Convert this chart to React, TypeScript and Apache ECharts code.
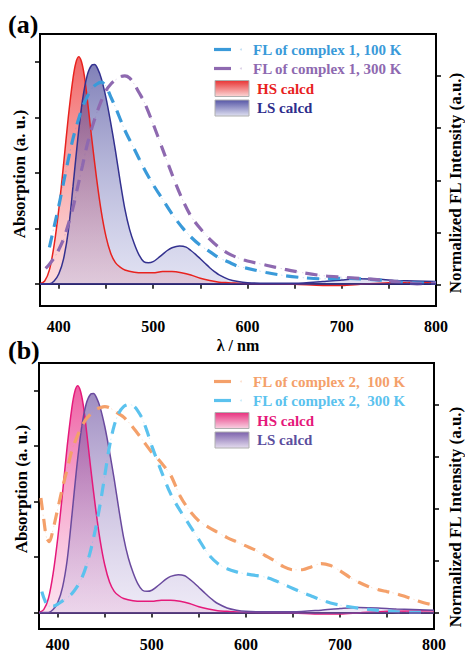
import React, { useEffect, useRef } from "react";
import * as echarts from "echarts";

// ---------- DATA ----------
// calculated absorption (same shape in both panels)
const hsNm = [380, 385, 390, 395, 400, 405, 410, 415, 418, 421, 424, 427, 430, 435, 440, 445, 450, 455, 460, 465, 470, 480, 490, 500, 510, 520, 530, 540, 550, 560, 570, 580, 600, 650, 680, 700, 720, 750, 800];
const hsAbs = [0.0, 0.05, 0.25, 0.7, 1.35, 2.15, 3.0, 3.7, 3.98, 4.09, 4.0, 3.75, 3.35, 2.6, 1.9, 1.3, 0.85, 0.55, 0.38, 0.3, 0.25, 0.21, 0.2, 0.2, 0.22, 0.22, 0.2, 0.16, 0.1, 0.06, 0.03, 0.02, 0.0, -0.01, -0.03, -0.03, -0.01, 0.02, 0.03];

const lsNm = [380, 390, 395, 400, 405, 410, 415, 420, 425, 430, 435, 438, 441, 445, 450, 455, 460, 465, 470, 475, 480, 485, 490, 495, 500, 505, 510, 515, 520, 528, 535, 540, 545, 550, 555, 560, 565, 570, 580, 590, 600, 620, 650, 680, 700, 720, 740, 760, 800];
const lsAbs = [0, 0.0, 0.05, 0.18, 0.45, 0.95, 1.75, 2.6, 3.3, 3.75, 3.94, 3.95, 3.88, 3.7, 3.35, 2.9, 2.4, 1.85, 1.35, 0.98, 0.72, 0.52, 0.4, 0.38, 0.4, 0.46, 0.53, 0.6, 0.65, 0.68, 0.66, 0.6, 0.53, 0.45, 0.37, 0.29, 0.22, 0.16, 0.08, 0.04, 0.02, 0.01, 0.01, 0.04, 0.07, 0.09, 0.08, 0.06, 0.04];

// panel (a) fluorescence, complex 1
const fl1Nm100 = [390, 395, 400, 405, 410, 415, 420, 425, 430, 435, 440, 445, 450, 455, 460, 470, 480, 490, 500, 510, 520, 530, 540, 550, 560, 570, 580, 590, 600, 620, 640, 660, 680, 700, 720, 740, 760, 780, 800];
const fl1Val100 = [0.18, 0.28, 0.38, 0.49, 0.6, 0.7, 0.78, 0.85, 0.9, 0.94, 0.96, 0.97, 0.95, 0.9, 0.85, 0.74, 0.65, 0.56, 0.48, 0.41, 0.34, 0.28, 0.23, 0.19, 0.16, 0.13, 0.11, 0.09, 0.08, 0.06, 0.045, 0.035, 0.03, 0.032, 0.03, 0.024, 0.015, 0.01, 0.01];

const fl1Nm300 = [386, 390, 395, 400, 405, 410, 415, 420, 425, 430, 435, 440, 445, 450, 455, 460, 465, 470, 475, 480, 485, 490, 500, 510, 520, 530, 540, 550, 560, 570, 580, 590, 600, 620, 640, 660, 680, 700, 720, 740, 760, 780, 800];
const fl1Val300 = [0.08, 0.1, 0.13, 0.17, 0.22, 0.29, 0.37, 0.47, 0.57, 0.67, 0.75, 0.82, 0.88, 0.93, 0.96, 0.98, 0.995, 1.0, 0.99, 0.96, 0.92, 0.88, 0.77, 0.65, 0.53, 0.42, 0.33, 0.27, 0.22, 0.18, 0.15, 0.13, 0.115, 0.095, 0.075, 0.058, 0.045, 0.038, 0.032, 0.025, 0.015, 0.006, 0.01];

// panel (b) fluorescence, complex 2
const fl2Nm100 = [382, 385, 388, 391, 395, 400, 405, 410, 415, 420, 425, 430, 435, 440, 445, 450, 455, 460, 465, 470, 480, 490, 500, 510, 520, 530, 540, 550, 560, 570, 580, 590, 600, 610, 620, 630, 640, 650, 660, 670, 680, 690, 700, 710, 720, 730, 740, 750, 760, 770, 780, 790, 800];
const fl2Val100 = [0.55, 0.45, 0.36, 0.34, 0.4, 0.5, 0.6, 0.69, 0.78, 0.84, 0.89, 0.93, 0.955, 0.975, 0.985, 0.99, 0.985, 0.97, 0.955, 0.94, 0.89, 0.83, 0.77, 0.72, 0.66, 0.56, 0.49, 0.44, 0.41, 0.385, 0.36, 0.34, 0.32, 0.3, 0.275, 0.25, 0.22, 0.205, 0.205, 0.22, 0.235, 0.225, 0.2, 0.17, 0.145, 0.125, 0.11, 0.1, 0.09, 0.075, 0.06, 0.045, 0.035];

const fl2Nm300 = [383, 386, 390, 395, 400, 405, 410, 415, 420, 425, 430, 435, 440, 445, 450, 455, 460, 465, 470, 475, 480, 485, 490, 495, 500, 510, 520, 530, 540, 550, 560, 570, 580, 590, 600, 610, 620, 630, 640, 650, 660, 670, 680, 690, 700, 720, 740, 760, 780, 790];
const fl2Val300 = [0.1, 0.06, 0.03, 0.03, 0.04, 0.055, 0.07, 0.09, 0.12, 0.16, 0.22, 0.3, 0.4, 0.52, 0.66, 0.8, 0.9, 0.96, 0.99, 1.0, 0.995, 0.97, 0.93, 0.87, 0.8, 0.68, 0.57, 0.49, 0.42, 0.35, 0.28, 0.235, 0.21, 0.195, 0.185, 0.178, 0.17, 0.155, 0.135, 0.115, 0.095, 0.078, 0.06, 0.045, 0.035, 0.02, 0.01, 0.003, 0.0, 0.0];

const xTicks = [400, 450, 500, 550, 600, 650, 700, 750, 800];
const xLabels = [400, 500, 600, 700, 800];
const absTicks = [0, 1, 2, 3, 4];
const flTicks = [0, 0.25, 0.5, 0.75, 1];

const legendA = ["FL of complex 1, 100 K", "FL of complex 1, 300 K", "HS calcd", "LS calcd"];
const legendB = ["FL of complex 2,  100 K", "FL of complex 2,  300 K", "HS calcd", "LS calcd"];

// ---------- HELPERS ----------
const zip = (xs: number[], ys: number[]) => xs.map((x, i) => [x, ys[i]]);
const FONT = '"Liberation Serif", "Times New Roman", serif';
const grad = (top: string, bottom: string) =>
  new echarts.graphic.LinearGradient(0, 0, 0, 1, [
    { offset: 0, color: top },
    { offset: 1, color: bottom },
  ]);

function xAxis(grid: number, margin: number, withName: boolean) {
  return {
    type: "value",
    gridIndex: grid,
    min: 380,
    max: 800,
    axisLine: { show: true, lineStyle: { color: "#000", width: 2 } },
    axisTick: { show: true, length: 5, lineStyle: { color: "#000", width: 1.5 }, customValues: xTicks },
    axisLabel: { customValues: xLabels, margin, color: "#000", fontFamily: FONT, fontWeight: "bold", fontSize: 16 },
    splitLine: { show: false },
    name: withName ? "λ / nm" : "",
    nameLocation: "middle",
    nameGap: 31,
    nameTextStyle: { color: "#000", fontFamily: FONT, fontWeight: "bold", fontSize: 16 },
  };
}
function yAxis(grid: number, pos: string, min: number, max: number, ticks: number[]) {
  return {
    type: "value",
    gridIndex: grid,
    position: pos,
    min,
    max,
    axisLine: { show: true, lineStyle: { color: "#000", width: 2 } },
    axisTick: { show: true, length: 5, lineStyle: { color: "#000", width: 1.5 }, customValues: ticks },
    axisLabel: { show: false },
    splitLine: { show: false },
  };
}

function absSeries(xi: number, yi: number, nm: number[], v: number[], line: string, top: string, bottom: string, baseline?: string) {
  const s: any = {
    type: "line",
    xAxisIndex: xi,
    yAxisIndex: yi,
    data: zip(nm, v),
    smooth: 0.3,
    showSymbol: false,
    silent: true,
    lineStyle: { color: line, width: 1.5 },
    areaStyle: { color: grad(top, bottom), origin: 0 },
  };
  if (baseline) {
    s.markLine = {
      silent: true,
      symbol: ["none", "none"],
      label: { show: false },
      lineStyle: { color: baseline, width: 1.5, type: "solid" },
      data: [{ yAxis: 0 }],
    };
  }
  return s;
}
function flSeries(xi: number, yi: number, nm: number[], v: number[], color: string) {
  return [
    {
      type: "line",
      xAxisIndex: xi,
      yAxisIndex: yi,
      data: zip(nm, v),
      smooth: 0.3,
      showSymbol: false,
      silent: true,
      lineStyle: { color, width: 1, opacity: 0.3, type: [1.5, 4] },
    },
    {
      type: "line",
      xAxisIndex: xi,
      yAxisIndex: yi,
      data: zip(nm, v),
      smooth: 0.3,
      showSymbol: false,
      silent: true,
      lineStyle: { color, width: 3.2, type: [12, 9], cap: "butt" },
    },
  ];
}

function legend(y0: number, labels: string[], c: string[], boxes: string[][]) {
  const els: any[] = [];
  const rows = [y0, y0 + 19];
  rows.forEach((y, i) => {
    els.push({ type: "line", shape: { x1: 214, y1: y, x2: 231, y2: y }, style: { stroke: c[i], lineWidth: 3.2 } });
    els.push({ type: "circle", shape: { cx: 241, cy: y, r: 1 }, style: { fill: c[i], opacity: 0.3 } });
    els.push({
      type: "text", x: 253, y,
      style: { text: labels[i], fill: c[i], font: `bold 15px ${FONT}`, textAlign: "left", textVerticalAlign: "middle" },
    });
  });
  const bRows = [y0 + 31, y0 + 50.5];
  bRows.forEach((y, j) => {
    els.push({
      type: "rect", shape: { x: 215, y, width: 34, height: 16 },
      style: { fill: grad(boxes[j][0], boxes[j][1]), stroke: "#b0b0b0", lineWidth: 1 },
    });
    els.push({
      type: "text", x: 257, y: y + 8,
      style: { text: labels[j + 2], fill: c[j + 2], font: `bold 15px ${FONT}`, textAlign: "left", textVerticalAlign: "middle" },
    });
  });
  return els;
}

function rotText(text: string, x: number, y: number) {
  return {
    type: "text", x, y, rotation: Math.PI / 2,
    style: { text, fill: "#000", font: `bold 17px ${FONT}`, textAlign: "center", textVerticalAlign: "middle" },
  };
}

export default function App() {
  const ref = useRef<HTMLDivElement>(null);
  useEffect(() => {
    if (!ref.current) return;
    const chart = echarts.init(ref.current, null, { renderer: "svg" });
    const cA = ["#3a9ad9", "#8e69b0", "#e8221e", "#2e2e8c"];
    const cB = ["#f4a06a", "#5bc2ee", "#e5197a", "#5b4f9e"];
    const option: any = {
      animation: false,
      backgroundColor: "#fff",
      grid: [
        { left: 40, top: 34, width: 396, height: 272, show: true, borderColor: "#000", borderWidth: 2, backgroundColor: "transparent" },
        { left: 39, top: 363, width: 395, height: 267, show: true, borderColor: "#000", borderWidth: 2, backgroundColor: "transparent" },
      ],
      xAxis: [xAxis(0, 12, true), xAxis(1, 7, false)],
      yAxis: [
        yAxis(0, "left", -0.4, 4.5, absTicks),
        yAxis(0, "right", -0.1, 1.2, flTicks),
        yAxis(1, "left", -0.3, 4.5, absTicks),
        yAxis(1, "right", -0.08, 1.2, flTicks),
      ],
      series: [
        absSeries(0, 0, hsNm, hsAbs, "#e8221e", "rgba(235,30,30,0.97)", "rgba(245,130,135,0.4)"),
        absSeries(0, 0, lsNm, lsAbs, "#33318f", "rgba(50,50,140,0.88)", "rgba(160,162,215,0.45)", "#3a3494"),
        ...flSeries(0, 1, fl1Nm100, fl1Val100, cA[0]),
        ...flSeries(0, 1, fl1Nm300, fl1Val300, cA[1]),
        absSeries(1, 2, hsNm, hsAbs, "#e5197a", "rgba(230,20,120,0.97)", "rgba(245,150,195,0.4)"),
        absSeries(1, 2, lsNm, lsAbs, "#6a4a9e", "rgba(100,70,155,0.88)", "rgba(200,188,228,0.45)", "#6a4a9e"),
        ...flSeries(1, 3, fl2Nm100, fl2Val100, cB[0]),
        ...flSeries(1, 3, fl2Nm300, fl2Val300, cB[1]),
      ],
      graphic: [
        { type: "text", x: 8, y: 24, style: { text: "(a)", fill: "#000", font: `bold 26px ${FONT}`, textAlign: "left", textVerticalAlign: "middle" } },
        { type: "text", x: 8, y: 350, style: { text: "(b)", fill: "#000", font: `bold 26px ${FONT}`, textAlign: "left", textVerticalAlign: "middle" } },
        rotText("Absorption (a. u.)", 19, 174),
        rotText("Normalized FL Intensity (a.u.)", 455, 183),
        rotText("Absorption (a. u.)", 21, 489),
        rotText("Normalized FL Intensity (a.u.)", 455, 517),
        ...legend(49.5, legendA, cA, [["#e83434", "#fbd6d6"], ["#5656a6", "#dedff0"]]),
        ...legend(381.5, legendB, cB, [["#e8307e", "#f8d2e2"], ["#7c62ac", "#e4dcee"]]),
      ],
    };
    chart.setOption(option);
    return () => chart.dispose();
  }, []);
  return <div ref={ref} style={{ width: 465, height: 652, position: "absolute", left: 0, top: 0 }} />;
}
